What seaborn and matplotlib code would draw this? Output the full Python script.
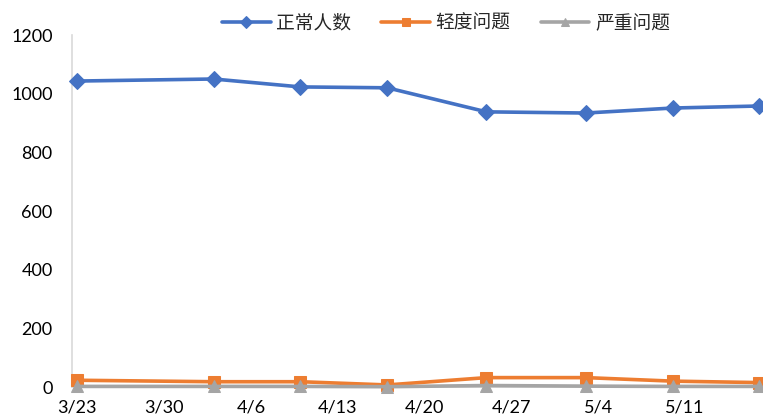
import matplotlib
matplotlib.use("Agg")
import matplotlib.pyplot as plt
import seaborn as sns
import pandas as pd

# ---- data ----
dates = ["2020-03-23", "2020-04-03", "2020-04-10", "2020-04-17",
         "2020-04-25", "2020-05-03", "2020-05-10", "2020-05-17"]
normal = [1043, 1050, 1023, 1020, 938, 934, 951, 958]
mild = [23, 18, 18, 7, 32, 32, 20, 15]
severe = [2, 2, 2, 1, 5, 3, 2, 2]
series_names = ["正常人数", "轻度问题", "严重问题"]
tick_dates = ["2020-03-23", "2020-03-30", "2020-04-06", "2020-04-13",
              "2020-04-20", "2020-04-27", "2020-05-04", "2020-05-11"]
tick_labels = ["3/23", "3/30", "4/6", "4/13", "4/20", "4/27", "5/4", "5/11"]
yticks = [0, 200, 400, 600, 800, 1000, 1200]

sns.set_theme(style="white")
plt.rcParams["font.family"] = ["Lato", "Noto Sans CJK SC", "DejaVu Sans"]

df = pd.DataFrame({"date": pd.to_datetime(dates),
                   series_names[0]: normal,
                   series_names[1]: mild,
                   series_names[2]: severe})

fig = plt.figure(figsize=(7.63, 4.17), dpi=100)
ax = fig.add_axes([72 / 763, 1 - 387 / 417, 1 - 72 / 763, (387 - 35) / 417])

styles = [("#4472C4", "D", 8), ("#ED7D31", "s", 8), ("#A5A5A5", "^", 8.5)]
for name, (col, mk, ms) in zip(series_names, styles):
    sns.lineplot(data=df, x="date", y=name, ax=ax, color=col, marker=mk,
                 markersize=ms, markeredgecolor=col, linewidth=2.6,
                 label=name, clip_on=False, zorder=3)

ax.set_ylim(0, 1200)
ax.set_xlim(pd.Timestamp("2020-03-22 14:00"), pd.Timestamp("2020-05-17 07:00"))
ax.set_yticks(yticks)
ax.set_yticklabels([str(v) for v in yticks], fontsize=13, color="#000000")
ax.set_xticks(pd.to_datetime(tick_dates))
ax.set_xticklabels(tick_labels, fontsize=13, color="#000000")
ax.set_xlabel("")
ax.set_ylabel("")

for s in ["top", "right"]:
    ax.spines[s].set_visible(False)
ax.spines["left"].set_color("#D9D9D9")
ax.spines["left"].set_linewidth(1.2)
ax.spines["bottom"].set_color("#D9D9D9")
ax.spines["bottom"].set_linewidth(1.2)
ax.tick_params(axis="y", length=0, pad=14)
ax.tick_params(axis="x", length=5, width=1, color="#D9D9D9", direction="out", pad=4)
ax.grid(False)

leg = ax.legend(loc="upper center", bbox_to_anchor=(446 / 763, 1.01), bbox_transform=fig.transFigure,
                ncol=3, frameon=False, handlelength=2.6, markerscale=0.75,
                columnspacing=1.6, handletextpad=0.3,
                prop={"family": ["Noto Sans CJK SC", "DejaVu Sans"], "size": 13.5})

fig.savefig("out.png", dpi=100)
